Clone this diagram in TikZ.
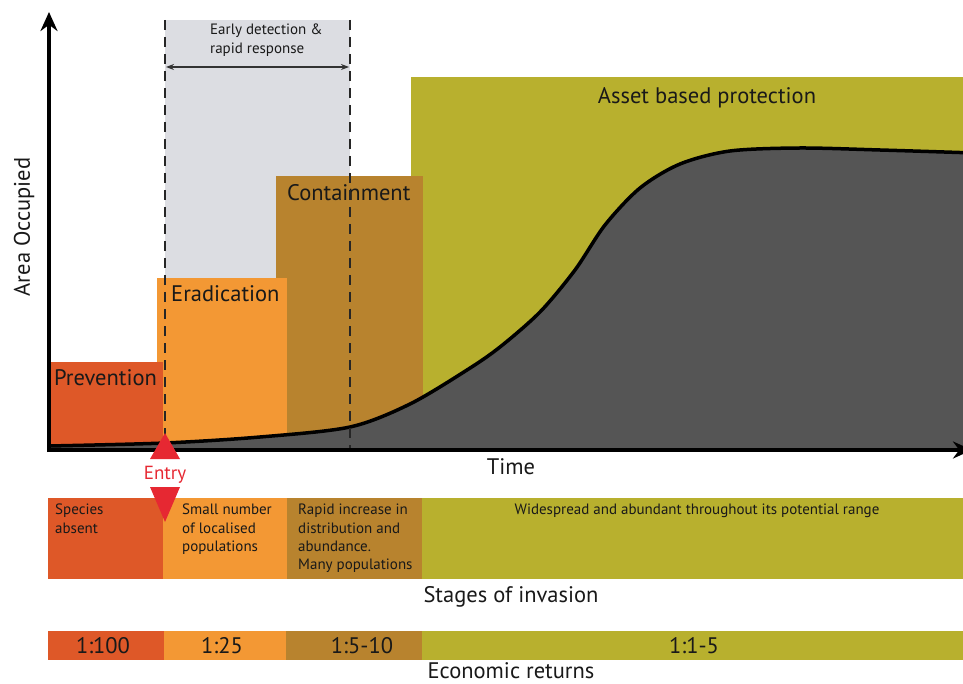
\documentclass[tikz,border=0pt]{standalone}
\usepackage{fontspec}
\setmainfont{PT Sans}
\usetikzlibrary{arrows.meta}

\definecolor{prevcol}{RGB}{222,88,40}
\definecolor{eradcol}{RGB}{243,152,52}
\definecolor{contcol}{RGB}{184,131,46}
\definecolor{assetcol}{RGB}{184,176,46}
\definecolor{edrrcol}{RGB}{220,221,226}
\definecolor{spreadcol}{RGB}{85,85,85}
\definecolor{entrycol}{RGB}{230,40,50}

\tikzset{
	biglabel/.style={font=\fontsize{22.5}{26}\selectfont, text=black!90, inner sep=0pt},
	smalllabel/.style={font=\fontsize{15}{18.3}\selectfont, text=black!90, inner sep=0pt, align=left},
	phaseline/.style={line width=1.7pt, dash pattern=on 10pt off 7pt, black!85}
}

\begin{document}
\begin{tikzpicture}[x=1pt,y=-1pt]
		\useasboundingbox (0,0) rectangle (963,684);
		
		% management phases
		\fill[edrrcol] (165,20) rectangle (350,450);
		\fill[assetcol] (411,77) rectangle (963,450);
		\fill[contcol] (276,176) rectangle (423,450);
		\fill[eradcol] (157,278) rectangle (287,450);
		\fill[prevcol] (49,362) rectangle (163,450);
		
		\node[biglabel, anchor=west] (prevention) at (54,378) {Prevention};
		\node[biglabel, anchor=west] (eradication) at (171,294) {Eradication};
		\node[biglabel, anchor=west] (containment) at (287,193) {Containment};
		\node[biglabel] (asset) at (707,98) {Asset based protection};
		
		% area occupied by the invader
		\draw[line width=3.5pt, fill=spreadcol] plot[smooth] coordinates {(49,446) (165,443) (260,437) (350,427) (410,404) (467,370) (500,347) (540,312) (575,270) (605,225) (640,188) (680,164) (730,151) (800,148) (880,150) (975,153)} -- (975,450) -- (49,450) -- cycle;
		
		% early detection window
		\draw[phaseline] (165,20) -- (165,450);
		\draw[phaseline] (350,20) -- (350,450);
		\coordinate (edl) at (166,67);
		\coordinate (edr) at (349,67);
		\draw[line width=1.3pt, black!80, {Stealth[length=8pt,width=6pt]}-{Stealth[length=8pt,width=6pt]}] (edl) -- (edr);
		\node[smalllabel, anchor=north west] (edrr) at (210,24) {Early detection \&\\rapid response};
		
		% axes
		\draw[line width=3.5pt, -{Stealth[length=19pt,width=17pt]}] (49,452) -- (49,12);
		\draw[line width=3.5pt, -{Stealth[length=19pt,width=17pt]}] (47,450) -- (972,450);
		\node[biglabel, rotate=90] (area) at (24,227) {Area Occupied};
		\node[biglabel] (time) at (511,467) {Time};
		
		% stages of invasion
		\fill[prevcol] (48,498) rectangle (163,579);
		\fill[eradcol] (163,498) rectangle (287,579);
		\fill[contcol] (287,498) rectangle (422,579);
		\fill[assetcol] (422,498) rectangle (963,579);
		\node[smalllabel, anchor=north west] (absent) at (55,504) {Species\\absent};
		\node[smalllabel, anchor=north west] (small) at (182,504) {Small number\\of localised\\populations};
		\node[smalllabel, anchor=north west] (rapid) at (298,504) {Rapid increase in\\distribution and\\abundance.\\Many populations};
		\node[smalllabel, anchor=north] (wide) at (697,504) {Widespread and abundant throughout its potential range};
		\node[biglabel] (stages) at (511,597) {Stages of invasion};
		
		% economic returns
		\fill[prevcol] (48,631) rectangle (164,660);
		\fill[eradcol] (164,631) rectangle (286,660);
		\fill[contcol] (286,631) rectangle (422,660);
		\fill[assetcol] (422,631) rectangle (963,660);
		\node[biglabel] (ret1) at (103,646) {1:100};
		\node[biglabel] (ret2) at (222,646) {1:25};
		\node[biglabel] (ret3) at (362,646) {1:5-10};
		\node[biglabel] (ret4) at (694,646) {1:1-5};
		\node[biglabel] (econ) at (511,671) {Economic returns};
		
		% entry
		\fill[entrycol] (165,433) -- (180,459) -- (150,459) -- cycle;
		\fill[entrycol] (165,522) -- (180,487) -- (150,487) -- cycle;
		\node[font=\fontsize{19}{22}\selectfont, text=entrycol, inner sep=0pt] (entry) at (165,475) {Entry};
\end{tikzpicture}
\end{document}
